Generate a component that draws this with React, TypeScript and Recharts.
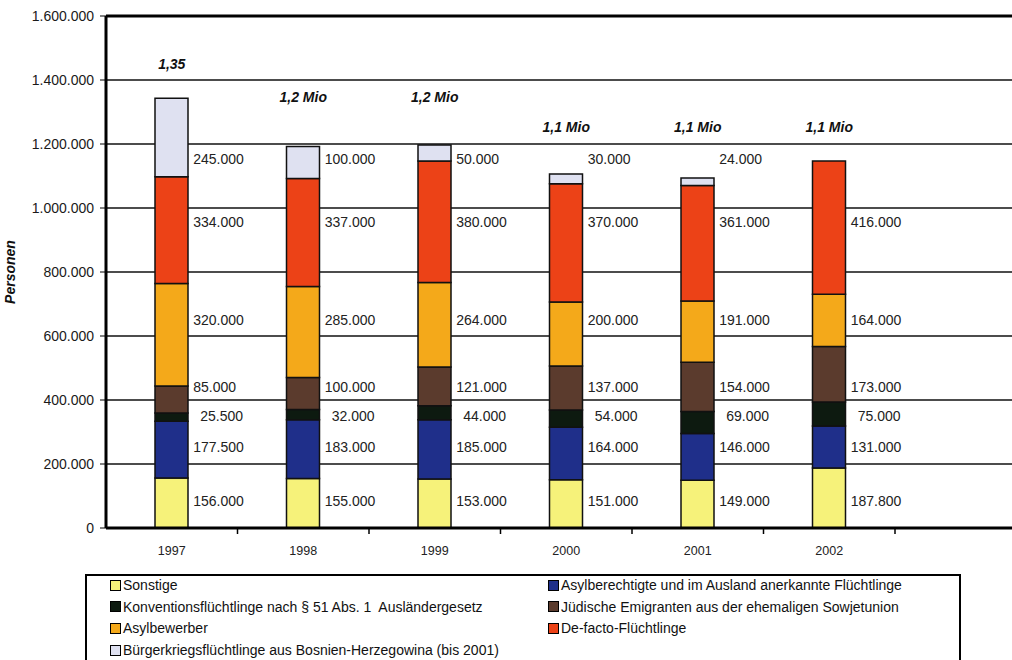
import React from "react";
import {
  BarChart,
  Bar,
  XAxis,
  YAxis,
  CartesianGrid,
  ReferenceLine,
  ReferenceDot,
} from "recharts";

// Flüchtlinge in Deutschland 1997–2002, Personen
const years = ["1997", "1998", "1999", "2000", "2001", "2002"];
const totalLabels = ["1,35", "1,2 Mio", "1,2 Mio", "1,1 Mio", "1,1 Mio", "1,1 Mio"];

const sonstige = [156000, 155000, 153000, 151000, 149000, 187800];
const asylberechtigte = [177500, 183000, 185000, 164000, 146000, 131000];
const konvention = [25500, 32000, 44000, 54000, 69000, 75000];
const juedische = [85000, 100000, 121000, 137000, 154000, 173000];
const asylbewerber = [320000, 285000, 264000, 200000, 191000, 164000];
const deFacto = [334000, 337000, 380000, 370000, 361000, 416000];
const buergerkrieg = [245000, 100000, 50000, 30000, 24000, null];

const seriesNames = [
  "Sonstige",
  "Asylberechtigte und im Ausland anerkannte Flüchtlinge",
  "Konventionsflüchtlinge nach § 51 Abs. 1  Ausländergesetz",
  "Jüdische Emigranten aus der ehemaligen Sowjetunion",
  "Asylbewerber",
  "De-facto-Flüchtlinge",
  "Bürgerkriegsflüchtlinge aus Bosnien-Herzegowina (bis 2001)",
];
const seriesValues = [sonstige, asylberechtigte, konvention, juedische, asylbewerber, deFacto, buergerkrieg];

const yTicks = [0, 200000, 400000, 600000, 800000, 1000000, 1200000, 1400000, 1600000];

// look
const colors = ["#f6f27a", "#1f2f8a", "#0d1a10", "#5b3b2d", "#f4a91a", "#ec4217", "#dfe1f1"];
// height (in Personen) at which each row of value labels sits
const labelLevel = [84000, 253000, 350000, 441000, 650000, 956000, 1153000];
const totalLevel = [1450000, 1347000, 1347000, 1253000, 1253000, 1253000];

const FONT = '"Liberation Sans", Arial, Helvetica, sans-serif';
const BAND = 131.5;

const fmt = (v: number) => String(v).replace(/\B(?=(\d{3})+(?!\d))/g, ".");

const data = years.map((year, i) => {
  const row: Record<string, any> = { year };
  seriesValues.forEach((vals, s) => {
    row["s" + s] = vals[i];
  });
  return row;
});

const YearTick = (props: any) => {
  const { x, y, payload } = props;
  const bx = x + BAND / 2;
  return (
    <g>
      <line x1={bx} x2={bx} y1={y} y2={y + 6} stroke="#000" strokeWidth={1.5} />
      <text x={x} y={y + 27} textAnchor="middle" fontSize={12.5} fill="#222" fontFamily={FONT}>
        {payload.value}
      </text>
    </g>
  );
};

const SegLabel = (props: any) => {
  const { viewBox, text, dx } = props;
  return (
    <text x={viewBox.x + 16.5 + dx} y={viewBox.y} dy={5} fontSize={14} fill="#222" fontFamily={FONT}>
      {text}
    </text>
  );
};

const TotalLabel = (props: any) => {
  const { viewBox, text } = props;
  return (
    <text
      x={viewBox.x}
      y={viewBox.y}
      dy={5}
      textAnchor="middle"
      fontSize={14}
      fontWeight="bold"
      fontStyle="italic"
      fill="#111"
      fontFamily={FONT}
    >
      {text}
    </text>
  );
};

export default function App() {
  return (
    <div
      style={{
        position: "absolute",
        left: 0,
        top: 0,
        width: 1012,
        height: 660,
        overflow: "hidden",
        background: "#fff",
        fontFamily: FONT,
      }}
    >
      <BarChart width={1012} height={560} data={data} margin={{ top: 16, right: 0, left: 0, bottom: 0 }}>
        <CartesianGrid vertical={false} stroke="#111" strokeWidth={1.3} />
        <XAxis
          dataKey="year"
          height={32}
          padding={{ left: 0, right: 117 }}
          axisLine={{ stroke: "#000", strokeWidth: 3 }}
          tickLine={false}
          tickSize={0}
          tickMargin={0}
          interval={0}
          tick={<YearTick />}
        />
        <YAxis
          width={106}
          domain={[0, 1600000]}
          ticks={yTicks}
          interval={0}
          tickFormatter={fmt}
          axisLine={{ stroke: "#000", strokeWidth: 3 }}
          tickLine={{ stroke: "#000" }}
          tickSize={6}
          tickMargin={6}
          tick={{ fontSize: 14, fill: "#1a1a1a", fontFamily: FONT }}
          label={{
            value: "Personen",
            angle: -90,
            position: "insideLeft",
            offset: 10,
            style: { fontSize: 14, fontWeight: "bold", fontStyle: "italic", fill: "#111", fontFamily: FONT, textAnchor: "middle" },
          }}
        />
        <ReferenceLine y={1600000} stroke="#000" strokeWidth={3} />
        {seriesNames.map((name, s) => (
          <Bar
            key={name}
            dataKey={"s" + s}
            name={name}
            stackId="a"
            barSize={33}
            fill={colors[s]}
            stroke="#111"
            strokeWidth={1.5}
            isAnimationActive={false}
          />
        ))}
        {seriesValues.map((vals, s) =>
          vals.map((v, i) =>
            v == null ? null : (
              <ReferenceDot
                key={`l${s}-${i}`}
                x={years[i]}
                y={labelLevel[s]}
                r={0}
                fill="none"
                stroke="none"
                label={<SegLabel text={fmt(v)} dx={s === 2 ? 12 : 5} />}
              />
            )
          )
        )}
        {totalLabels.map((t, i) => (
          <ReferenceDot
            key={"t" + i}
            x={years[i]}
            y={totalLevel[i]}
            r={0}
            fill="none"
            stroke="none"
            label={<TotalLabel text={t} />}
          />
        ))}
      </BarChart>
      <div
        style={{
          position: "absolute",
          left: 85,
          top: 574,
          width: 876,
          height: 110,
          border: "2px solid #000",
          boxSizing: "border-box",
        }}
      >
        {seriesNames.map((name, s) => {
          const row = Math.floor(s / 2);
          const col = s % 2;
          return (
            <div
              key={name}
              style={{
                position: "absolute",
                left: col === 0 ? 23 : 461,
                top: -1 + row * 21.7,
                height: 20,
                display: "flex",
                alignItems: "center",
                fontSize: 14,
                color: "#111",
                whiteSpace: "pre",
              }}
            >
              <span
                style={{
                  display: "inline-block",
                  width: 9,
                  height: 9,
                  background: colors[s],
                  border: "1.5px solid #000",
                  marginRight: 2,
                }}
              />
              {name}
            </div>
          );
        })}
      </div>
    </div>
  );
}
